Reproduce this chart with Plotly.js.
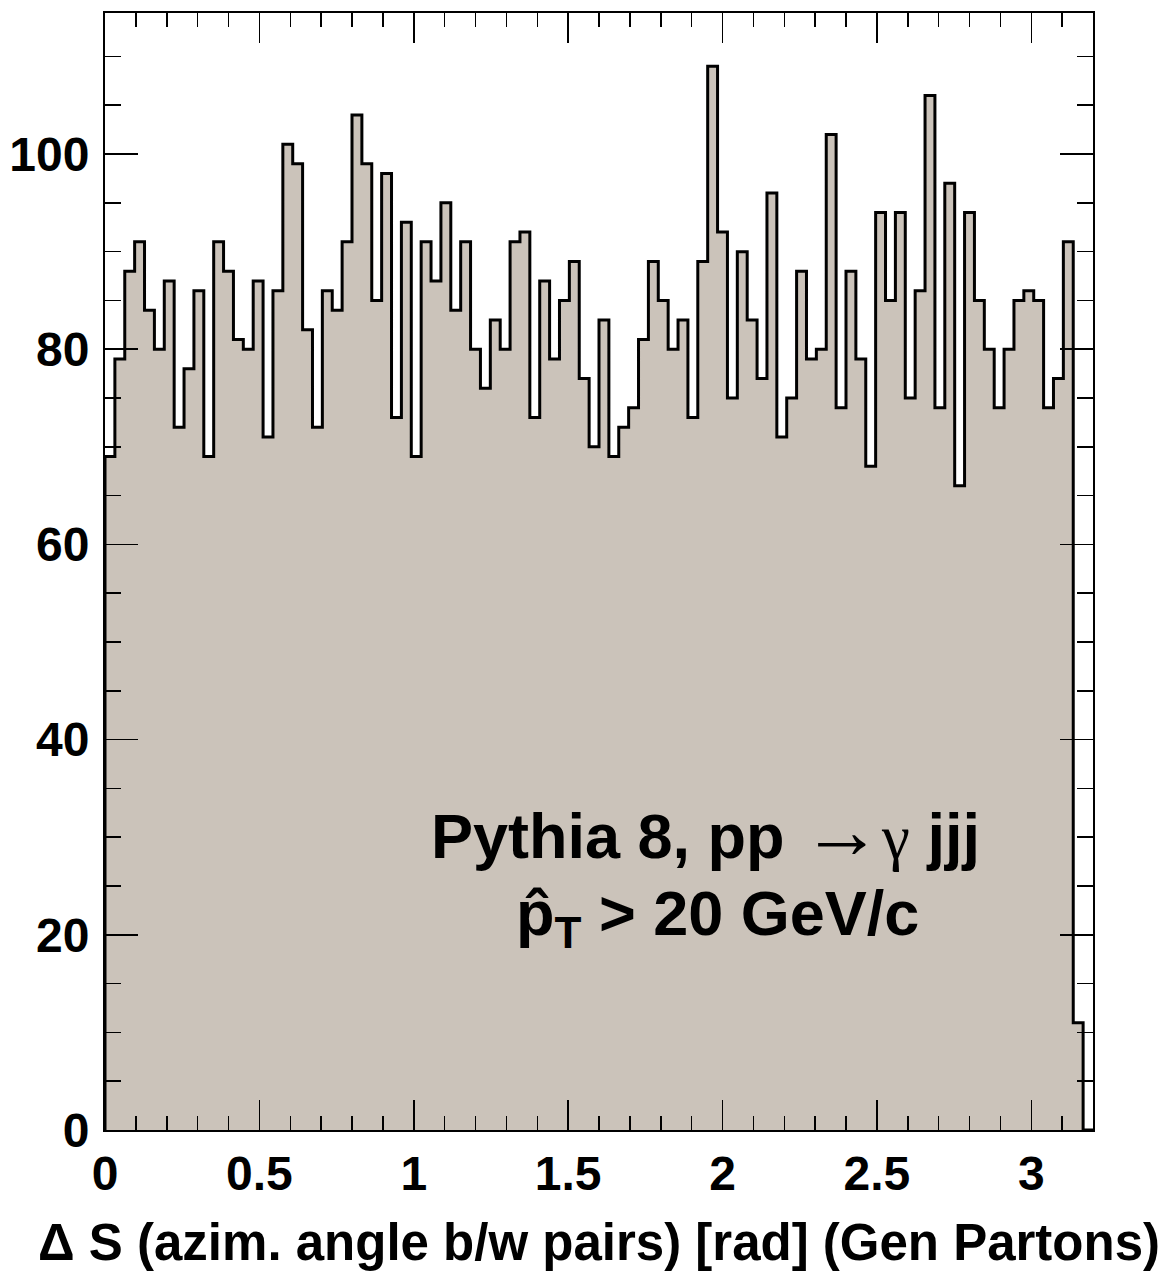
<!DOCTYPE html>
<html>
<head>
<meta charset="utf-8">
<script src="https://cdn.plot.ly/plotly-3.0.1.min.js"></script>
<style>html,body{margin:0;padding:0;background:#fff;}</style>
</head>
<body>
<div id="chart" style="width:1168px;height:1271px;"></div>
<script>
// Histogram: 100 bins from 0 to 3.2 rad
const binLow = 0;
const binWidth = 0.032;
const counts = [
  69,79,88,91,84,80,87,72,78,86,
  69,91,88,81,80,87,71,86,101,99,
  82,72,86,84,91,104,99,85,98,73,
  93,69,91,87,95,84,91,80,76,83,
  80,91,92,73,87,79,85,89,77,70,
  83,69,72,74,81,89,85,80,83,73,
  89,109,92,75,90,83,77,96,71,75,
  88,79,80,102,74,88,79,68,94,85,
  94,75,86,106,74,97,66,94,85,80,
  74,80,85,86,85,74,77,91,11,0
];
const xTickVals = [0, 0.5, 1, 1.5, 2, 2.5, 3];
const xTickText = ["0", "0.5", "1", "1.5", "2", "2.5", "3"];
const yTickVals = [0, 20, 40, 60, 80, 100];
const yTickText = ["0", "20", "40", "60", "80", "100"];
const xTitle = "\u0394 S (azim. angle b/w pairs) [rad] (Gen Partons)";
const label1 = "Pythia 8, pp <span style=\"font-family:'Liberation Serif';font-weight:normal;font-size:80px\">\u2192</span><span style=\"font-family:'Liberation Serif';font-weight:normal\">\u03b3</span> jjj";
const label2 = "p\u0302<sub>T</sub> > 20 GeV/c";

// build step outline from bins
const nb = counts.length;
const xs = [binLow], ys = [0];
for (let i = 0; i < nb; i++) { xs.push(binLow + i * binWidth); ys.push(counts[i]); }
xs.push(binLow + nb * binWidth); ys.push(counts[nb - 1]);
const yMax = Math.max(...counts) * 1.05;

const FONT = 'Liberation Sans, Arial, sans-serif';

const trace = {
  type: 'scatter', mode: 'lines', x: xs, y: ys,
  line: {shape: 'hv', color: '#000', width: 3},
  fill: 'tozeroy', fillcolor: '#cbc3ba', hoverinfo: 'skip'
};

const layout = {
  width: 1168, height: 1271,
  margin: {l: 105, r: 75, t: 13, b: 141},
  paper_bgcolor: '#fff', plot_bgcolor: '#fff',
  showlegend: false,
  font: {family: FONT, color: '#000'},
  xaxis: {
    range: [binLow, binLow + nb * binWidth],
    tickvals: xTickVals, ticktext: xTickText,
    ticks: 'inside', ticklen: 30, tickwidth: 1.5, tickcolor: '#000',
    minor: {dtick: 0.1, ticks: 'inside', ticklen: 14, tickwidth: 1.5, tickcolor: '#000', showgrid: false},
    showline: true, linecolor: '#000', linewidth: 2, mirror: 'allticks',
    showgrid: false, zeroline: false,
    tickfont: {family: FONT, size: 48, weight: 700},
    title: {text: xTitle, font: {family: FONT, size: 51, weight: 700}, standoff: 26}
  },
  yaxis: {
    range: [0, yMax],
    tickvals: yTickVals, ticktext: yTickText,
    ticks: 'inside', ticklen: 33, tickwidth: 1.5, tickcolor: '#000',
    minor: {dtick: 5, ticks: 'inside', ticklen: 16, tickwidth: 1.5, tickcolor: '#000', showgrid: false},
    showline: true, linecolor: '#000', linewidth: 2, mirror: 'allticks',
    showgrid: false, zeroline: false,
    tickfont: {family: FONT, size: 48, weight: 700},
    ticklabelstandoff: 4
  },
  annotations: [
    {xref: 'paper', yref: 'paper', x: 0.608, y: 0.268, xanchor: 'center', yanchor: 'middle',
     text: label1, showarrow: false, font: {family: FONT, size: 63, weight: 700, color: '#000'}},
    {xref: 'paper', yref: 'paper', x: 0.62, y: 0.19, xanchor: 'center', yanchor: 'middle',
     text: label2, showarrow: false, font: {family: FONT, size: 63, weight: 700, color: '#000'}}
  ]
};

Plotly.newPlot('chart', [trace], layout, {staticPlot: true, displayModeBar: false});
</script>
</body>
</html>
